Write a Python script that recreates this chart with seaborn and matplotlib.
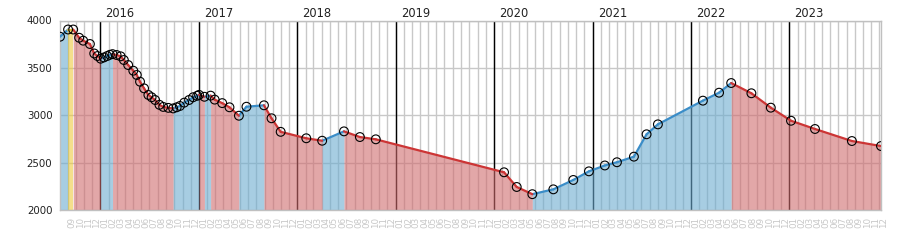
import numpy as np
import pandas as pd
import matplotlib
matplotlib.use("Agg")
import matplotlib.pyplot as plt
import matplotlib.dates as mdates
import seaborn as sns

# ---- data ----
dates = [
    "2015-08-04", "2015-09-03", "2015-09-22", "2015-10-14", "2015-10-29", "2015-11-23",
    "2015-12-09", "2015-12-21", "2016-01-02", "2016-01-14", "2016-01-26", "2016-02-05",
    "2016-02-15", "2016-03-01", "2016-03-16", "2016-03-28", "2016-04-13", "2016-05-02",
    "2016-05-15", "2016-05-27", "2016-06-11", "2016-06-27", "2016-07-09", "2016-07-22",
    "2016-08-07", "2016-08-21", "2016-09-09", "2016-09-27", "2016-10-10", "2016-10-22",
    "2016-11-07", "2016-11-25", "2016-12-10", "2016-12-25", "2017-01-01", "2017-01-21",
    "2017-02-13", "2017-02-28", "2017-03-28", "2017-04-24", "2017-05-29", "2017-06-26",
    "2017-08-30", "2017-09-27", "2017-10-31", "2018-02-03", "2018-04-03", "2018-06-23",
    "2018-08-21", "2018-10-19", "2020-02-07", "2020-03-25", "2020-05-22", "2020-08-08",
    "2020-10-21", "2020-12-18", "2021-02-15", "2021-04-01", "2021-06-03", "2021-07-20",
    "2021-08-31", "2022-02-14", "2022-04-15", "2022-05-30", "2022-08-13", "2022-10-24",
    "2023-01-07", "2023-04-06", "2023-08-21", "2023-12-07",
]
values = [
    3829, 3905, 3905, 3818, 3787, 3752,
    3652, 3625, 3597, 3610, 3625, 3638,
    3645, 3636, 3622, 3583, 3530, 3470,
    3425, 3354, 3284, 3214, 3190, 3161,
    3110, 3088, 3078, 3072, 3084, 3098,
    3133, 3161, 3190, 3205, 3215, 3195,
    3207, 3165, 3128, 3084, 2995, 3090,
    3105, 2968, 2825, 2757, 2731, 2830,
    2770, 2746, 2398, 2243, 2167, 2218,
    2317, 2408, 2470, 2504, 2563, 2799,
    2904, 3154, 3238, 3340, 3232, 3080,
    2942, 2855, 2728, 2675,
]
years = [2016, 2017, 2018, 2019, 2020, 2021, 2022, 2023]
y_ticks = [2000, 2500, 3000, 3500, 4000]

line_pal = {"up": "#3a8dc8", "down": "#cc3535", "flat": "#e6c03a"}
fill_pal = {"up": "#6cacd0", "down": "#d06c6e", "flat": "#edca3f"}

sns.set_theme(style="white")
plt.rcParams["font.family"] = ["DejaVu Sans"]

x = mdates.date2num(pd.to_datetime(dates).to_pydatetime())
v = np.array(values, dtype=float)
n = len(v)
dirs = []
for i in range(n - 1):
    d = v[i + 1] - v[i]
    dirs.append("up" if d > 0 else ("down" if d < 0 else "flat"))

fig = plt.figure(figsize=(9, 2.5), dpi=100)
ax = fig.add_axes([60 / 900, 40 / 250, 821 / 900, 189.5 / 250])
ymin, ymax = y_ticks[0], y_ticks[-1]

# fills: group consecutive segments of the same direction
i = 0
while i < n - 1:
    j = i
    while j + 1 < n - 1 and dirs[j + 1] == dirs[i]:
        j += 1
    ax.fill_between(x[i:j + 2], v[i:j + 2], ymin, color=fill_pal[dirs[i]],
                    alpha=0.6, lw=0, zorder=1)
    i = j + 1

# coloured line segments via seaborn
rows = []
for k in range(n - 1):
    rows.append({"seg": k, "x": x[k], "y": v[k], "dir": dirs[k]})
    rows.append({"seg": k, "x": x[k + 1], "y": v[k + 1], "dir": dirs[k]})
seg_df = pd.DataFrame(rows)
sns.lineplot(data=seg_df, x="x", y="y", hue="dir", units="seg", estimator=None,
             palette=line_pal, legend=False, lw=1.6, sort=False, ax=ax, zorder=3)

# markers
pts = pd.DataFrame({"x": x, "y": v})
sns.scatterplot(data=pts, x="x", y="y", marker="o", s=40, ax=ax, zorder=4,
                edgecolor="black", linewidth=0.8, legend=False)
ax.collections[-1].set_facecolor("none")

# axes setup
ax.set_xlim(x[0], x[-1])
ax.set_ylim(ymin, ymax)
ax.set_yticks(y_ticks)
ax.set_yticklabels([str(t) for t in y_ticks])
ax.set_xlabel("")
ax.set_ylabel("")

ax.xaxis.set_major_locator(mdates.MonthLocator())
ax.xaxis.set_major_formatter(mdates.DateFormatter("%m"))
ax.tick_params(axis="x", length=0, pad=4.8, labelsize=6.3, labelcolor="#c8c8c8",
               labelrotation=90)
for lab in ax.get_xticklabels():
    lab.set_ha("left")
    lab.set_va("top")
ax.tick_params(axis="y", length=0, pad=5.5, labelsize=7.4, labelcolor="#222222")

ax.grid(True, which="major", axis="both", color="#c8c8c8", lw=1, zorder=0.5)
ax.set_axisbelow(True)

for yr in years:
    xd = mdates.date2num(pd.Timestamp(f"{yr}-01-01").to_pydatetime())
    ax.axvline(xd, color="black", lw=1, zorder=0.8)
    ax.annotate(str(yr), xy=(xd, 1), xycoords=("data", "axes fraction"),
                xytext=(3.6, 2.7), textcoords="offset points", ha="left",
                va="baseline", fontsize=8.3, color="#222222")

for s in ax.spines.values():
    s.set_color("#c0c0c0")
    s.set_linewidth(1)

fig.savefig("out.png", dpi=100)
